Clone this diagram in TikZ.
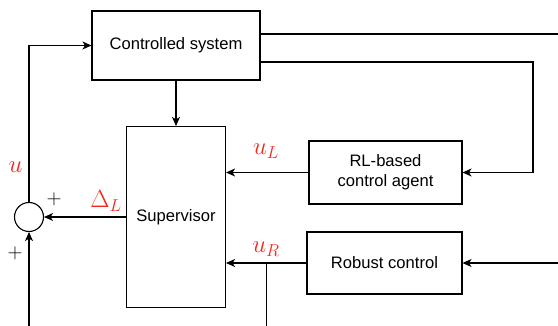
\documentclass[tikz,border=0pt]{standalone}
\usepackage{fontspec}
\setmainfont{Liberation Sans}
\usetikzlibrary{arrows.meta,calc}
\definecolor{labred}{RGB}{245,40,30}
\tikzset{
  blk/.style={draw, line width=1.1pt, rectangle, inner sep=0pt, align=center,
    font=\fontsize{16.6}{20}\selectfont},
  conn/.style={line width=1.1pt},
  arr/.style={conn, -{Stealth[length=9pt,width=8pt,inset=2.5pt]}},
  lab/.style={text=labred, font=\fontsize{23}{26}\selectfont, inner sep=0pt},
  sgn/.style={font=\fontsize{20}{22}\selectfont, inner sep=0pt}
}
\begin{document}
\begin{tikzpicture}[x=1pt,y=-1pt]
\useasboundingbox (0,0) rectangle (558,326);
\node[blk, minimum width=168pt, minimum height=69pt] (sys) at (176,45.5) {Controlled system};
\node[blk, minimum width=99pt, minimum height=181pt] (sup) at (176,217) {Supervisor};
\node[blk, minimum width=153pt, minimum height=63pt] (rl) at (385.5,172.5) {RL-based\\control agent};
\node[blk, minimum width=155pt, minimum height=62pt] (rob) at (384.5,263) {Robust control};
\node[draw, line width=1.1pt, circle, minimum size=29pt, inner sep=0pt] (sum) at (29,217) {};
\coordinate (outTop) at (558,34);
\coordinate (bendR) at (533,62);
\coordinate (inRob) at (558,263);
\coordinate (inSum) at (29,326);
\coordinate (branch) at (266.7,263);
\coordinate (outR) at (266.7,326);
% connectors
\draw[arr] (sum.north) |- (sys.west);
\draw[conn] ([yshift=11.5pt]sys.east) -- (outTop);
\draw[arr] ([yshift=-16.5pt]sys.east) -| (bendR) |- (rl.east);
\draw[arr] (sys.south) -- (sup.north);
\draw[arr] (rl.west) -- (sup.east |- rl.west);
\draw[arr] (rob.west) -- (sup.east |- rob.west);
\draw[conn] (branch) -- (outR);
\draw[arr] (sup.west) -- (sum.east);
\draw[arr] (inSum) -- (sum.south);
\draw[arr] (inRob) -- (rob.east);
% labels
\node[lab] (lu) at (15.5,167.5) {$u$};
\node[lab] (luL) at (266,151) {$u_L$};
\node[lab] (luR) at (266,249) {$u_R$};
\node[lab] (lD) at (106,201) {$\Delta_L$};
\node[sgn] (p1) at (54,199) {$+$};
\node[sgn] (p2) at (15,253) {$+$};
\end{tikzpicture}
\end{document}
